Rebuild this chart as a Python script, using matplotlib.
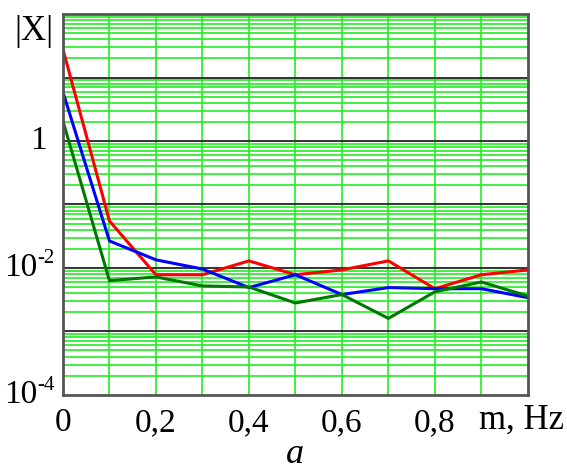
import numpy as np
import matplotlib.pyplot as plt
import matplotlib.transforms as mtransforms

plt.rcParams['font.family'] = 'Liberation Serif'

# frequency, Hz
freq = [0.0, 0.1, 0.2, 0.3, 0.4, 0.5, 0.6, 0.7, 0.8, 0.9, 1.0]
# |X| spectra
x_red = [28, 0.055, 0.0078, 0.0078, 0.0129, 0.0078, 0.0093, 0.0129, 0.0047, 0.0078, 0.0093]
x_blue = [5.9, 0.0266, 0.0134, 0.0096, 0.0049, 0.0078, 0.0038, 0.0049, 0.0047, 0.0047, 0.0034]
x_green = [2.07, 0.0063, 0.0072, 0.0052, 0.005, 0.0028, 0.0038, 0.0016, 0.0042, 0.006, 0.0036]

xtick_pos = [0, 0.2, 0.4, 0.6, 0.8]
xtick_lab = ['0', '0,2', '0,4', '0,6', '0,8']
ytick_pos = [1e-4, 1e-2, 1]
ytick_exp = ['-4', '-2', None]

fig = plt.figure(figsize=(5.67, 4.70), dpi=100)
ax = fig.add_axes([0.111, 0.160, 0.820, 0.810])
ax.set_yscale('log')
ax.set_xlim(0, 1)
ax.set_ylim(1e-4, 1e2)

# grid: green minor/x lines, black decades
for xv in np.arange(0.1, 1.0, 0.1):
    ax.axvline(xv, color='#22ee22', lw=1.2, zorder=1)
for dec in range(-4, 2):
    for m in range(2, 10):
        ax.axhline(m * 10.0**dec, color='#22ee22', lw=1.2, zorder=1)
for dec in range(-3, 2):
    ax.axhline(10.0**dec, color='#222222', lw=1.3, zorder=1.5)

ax.plot(freq, x_red, color='#ff0000', lw=2.2, zorder=3)
ax.plot(freq, x_blue, color='#0000ff', lw=2.2, zorder=3)
ax.plot(freq, x_green, color='#007700', lw=2.2, zorder=3)

ax.set_yticks([])
ax.minorticks_off()
ax.set_xticks(xtick_pos)
ax.set_xticklabels(xtick_lab)
ax.tick_params(length=0, labelsize=24, pad=9)

# y labels: 10 with raised exponent
trans = mtransforms.blended_transform_factory(ax.transAxes, ax.transData)
for yv, ex in zip(ytick_pos, ytick_exp):
    if ex is None:
        ax.text(-0.034, yv, '1', transform=trans, fontsize=24,
                ha='right', va='center', clip_on=False)
    else:
        ax.text(-0.056, yv, '10', transform=trans, fontsize=24,
                ha='right', va='center', clip_on=False)
        sup = mtransforms.offset_copy(trans, fig=fig, x=0, y=7, units='points')
        ax.text(-0.056, yv, ex, transform=sup, fontsize=15,
                ha='left', va='center', clip_on=False)

for s in ax.spines.values():
    s.set_color('#555555')
    s.set_linewidth(2)
    s.set_zorder(4)

fig.text(0.060, 0.932, '|X|', fontsize=25, ha='center', va='center')
fig.text(0.919, 0.106, 'm, Hz', fontsize=25, ha='center', va='center')
fig.text(0.520, 0.033, 'a', fontsize=26, style='italic', ha='center', va='center')

fig.savefig('out.png', dpi=100)
